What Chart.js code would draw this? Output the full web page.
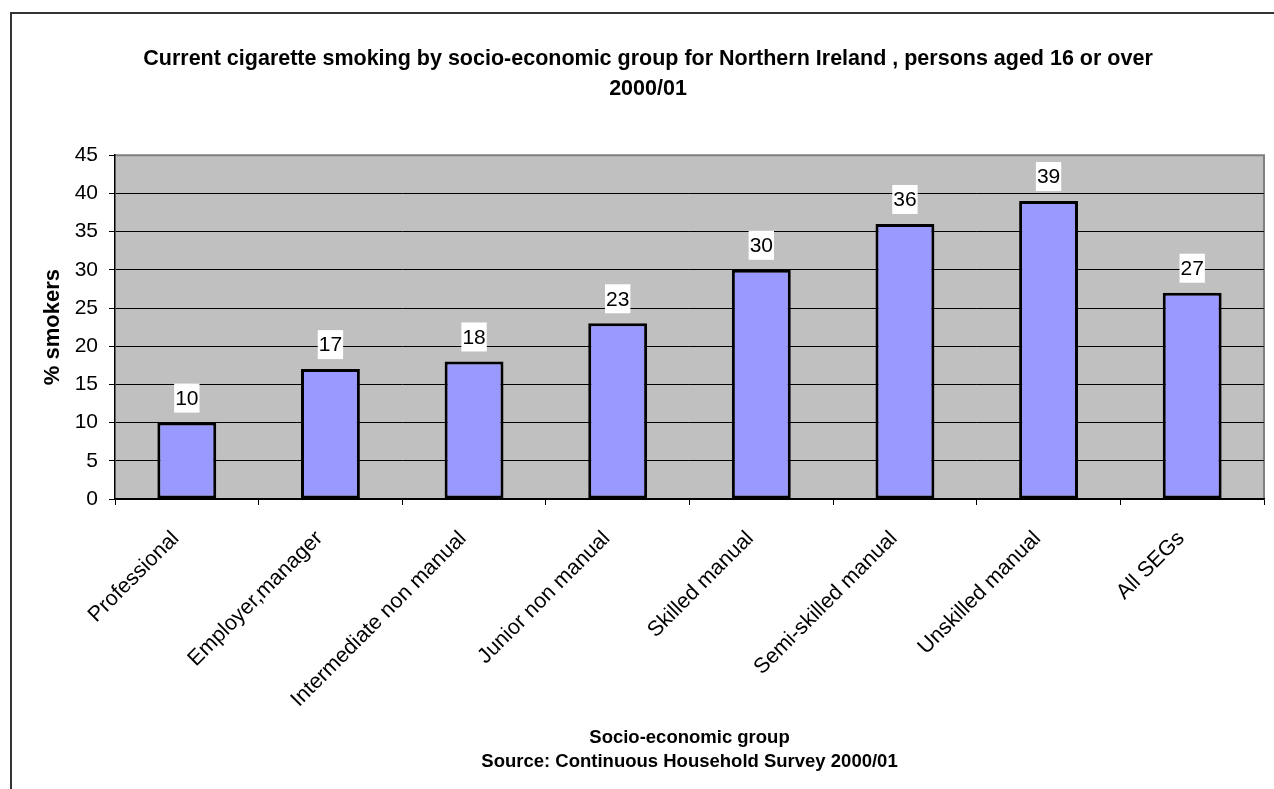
<!DOCTYPE html>
<html>
<head>
<meta charset="utf-8">
<title>Current cigarette smoking by socio-economic group</title>
<script src="https://cdn.jsdelivr.net/npm/chart.js@4/dist/chart.umd.min.js"></script>
<style>
  html, body { margin: 0; padding: 0; background: #fff; }
  canvas { display: block; }
</style>
</head>
<body>
<canvas id="smokingChart" width="1274" height="789"></canvas>
<script>
// data
const groups = ['Professional', 'Employer,manager', 'Intermediate non manual', 'Junior non manual',
  'Skilled manual', 'Semi-skilled manual', 'Unskilled manual', 'All SEGs'];
const smokers = [10, 17, 18, 23, 30, 36, 39, 27];
const yTicks = [0, 5, 10, 15, 20, 25, 30, 35, 40, 45];
const titleLines = ['Current cigarette smoking by socio-economic group for Northern Ireland , persons aged 16 or over', '2000/01'];
const xTitleLines = ['Socio-economic group', 'Source: Continuous Household Survey 2000/01'];
const yTitle = '% smokers';

const fontFam = 'Arial, "Liberation Sans", Helvetica, sans-serif';

//! grey plot area + outer frame
const plotBg = {
  id: 'plotBg',
  beforeDraw(chart) {
    const c = chart.ctx;
    const a = chart.chartArea;
    c.save();
    c.fillStyle = '#fff';
    c.fillRect(0, 0, chart.width, chart.height);
    c.strokeStyle = '#333';
    c.lineWidth = 2;
    c.strokeRect(11, 13, 1400, 900);
    c.fillStyle = '#c0c0c0';
    c.fillRect(a.left, a.top, a.right - a.left, a.bottom - a.top);
    c.strokeStyle = '#808080';
    c.lineWidth = 2;
    c.beginPath();
    c.moveTo(a.left, a.top);
    c.lineTo(a.right, a.top);
    c.lineTo(a.right, a.bottom);
    c.stroke();
    c.restore();
  }
};

//! value labels in white boxes above the bars
const valueBoxes = {
  id: 'valueBoxes',
  afterDatasetsDraw(chart) {
    const c = chart.ctx;
    const meta = chart.getDatasetMeta(0);
    c.save();
    c.font = '21px ' + fontFam;
    c.textAlign = 'center';
    c.textBaseline = 'middle';
    meta.data.forEach((bar, i) => {
      const txt = String(chart.data.datasets[0].data[i]);
      const w = c.measureText(txt).width + 2;
      const h = 29;
      const bottom = bar.y - 10;
      c.fillStyle = '#fff';
      c.fillRect(bar.x - w / 2, bottom - h, w, h);
      c.fillStyle = '#000';
      c.fillText(txt, bar.x, bottom - h / 2 + 1);
    });
    c.restore();
  }
};

const ctx = document.getElementById('smokingChart');
new Chart(ctx, {
  type: 'bar',
  data: {
    labels: groups,
    datasets: [{
      label: yTitle,
      data: smokers,
      backgroundColor: '#9999ff',
      borderColor: '#000',
      borderWidth: 3,
      borderSkipped: false,
      barPercentage: 0.41,
      categoryPercentage: 1
    }]
  },
  options: {
    responsive: false,
    animation: false,
    devicePixelRatio: 1,
    layout: { padding: { left: 32, right: 10, top: 0, bottom: 0 } },
    plugins: {
      legend: { display: false },
      tooltip: { enabled: false },
      title: {
        display: true,
        text: titleLines,
        color: '#000',
        font: { family: fontFam, size: 21.5, weight: 'bold', lineHeight: 1.4 },
        padding: { top: 44, bottom: 51 }
      }
    },
    scales: {
      x: {
        afterFit(scale) { scale.height = 290; },
        grid: { drawOnChartArea: false, drawTicks: true, tickLength: 6, color: '#000', offset: true },
        border: { display: true, color: '#000', width: 1.5 },
        ticks: {
          color: '#000',
          font: { family: fontFam, size: 21.5 },
          minRotation: 45,
          maxRotation: 45,
          autoSkip: false,
          labelOffset: -11,
          padding: 21
        },
        title: {
          display: true,
          text: xTitleLines,
          color: '#000',
          font: { family: fontFam, size: 18.5, weight: 'bold', lineHeight: 1.3 },
          padding: { top: 0, bottom: 15 }
        }
      },
      y: {
        min: 0,
        max: 45,
        afterFit(scale) { scale.width = 83; },
        afterBuildTicks(scale) { scale.ticks = yTicks.map(v => ({ value: v })); },
        grid: {
          color: c => (c.tick && c.tick.value === 45) ? 'rgba(0,0,0,0)' : '#000',
          tickColor: '#000',
          tickLength: 6,
          lineWidth: 1
        },
        border: { display: true, color: '#000', width: 1.5 },
        ticks: {
          color: '#000',
          font: { family: fontFam, size: 21 },
          padding: 11
        },
        title: {
          display: true,
          text: yTitle,
          color: '#000',
          font: { family: fontFam, size: 22, weight: 'bold' },
          padding: { top: 8, bottom: 0 }
        }
      }
    }
  },
  plugins: [plotBg, valueBoxes]
});
</script>
</body>
</html>
